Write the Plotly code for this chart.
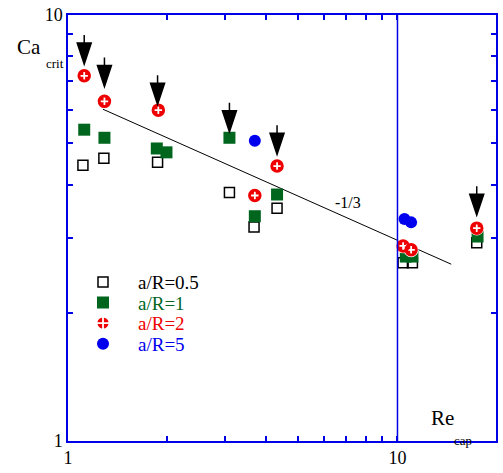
import numpy as np
import plotly.graph_objects as go

# Critical capillary number versus capillary Reynolds number, per a/R
x_05 = [1.11, 1.285, 1.87, 3.09, 3.67, 4.31, 10.4, 11.1, 17.4]
y_05 = [4.44, 4.61, 4.51, 3.83, 3.18, 3.52, 2.62, 2.62, 2.92]

x_1 = [1.12, 1.29, 1.86, 1.99, 3.09, 3.69, 4.31, 10.6, 11.1, 17.5]
y_1 = [5.38, 5.15, 4.86, 4.76, 5.15, 3.37, 3.79, 2.71, 2.71, 3.02]

x_2 = [1.12, 1.29, 1.88, 3.69, 4.31, 10.4, 11.0, 17.4]
y_2 = [7.2, 6.27, 5.98, 3.77, 4.42, 2.87, 2.81, 3.16]

x_5 = [3.69, 10.5, 11.0]
y_5 = [5.07, 3.32, 3.26]

series_names = ["a/R=0.5", "a/R=1", "a/R=2", "a/R=5"]

# Reference line with slope -1/3 (end points)
fit_x = [1.276, 14.56]
fit_y = [6.01, 2.60]

# Tips of the downward arrows
arrow_x = [1.12, 1.29, 1.87, 3.09, 4.31, 17.4]
arrow_y = [7.67, 6.79, 6.17, 5.32, 4.71, 3.39]

BLUE = "#0000e6"
GREEN = "#00661e"
RED = "#ee0000"
MBLUE = "#0000ee"
FONT = "Liberation Serif, Times New Roman, serif"

fig = go.Figure()

fig.add_trace(go.Scatter(
    x=fit_x, y=fit_y, mode="lines", showlegend=False,
    line=dict(color="black", width=1), hoverinfo="skip"))

markers = [
    dict(symbol="square-open", size=10, color="black",
         line=dict(color="black", width=1.5)),
    dict(symbol="square", size=12, color=GREEN, line=dict(width=0)),
    dict(symbol="circle-cross", size=13, color=RED,
         line=dict(color="white", width=1.8)),
    dict(symbol="circle", size=12, color=MBLUE, line=dict(width=0)),
]
text_colors = ["black", GREEN, RED, MBLUE]
legend_ids = ["legend", "legend2", "legend3", "legend4"]

for xs, ys, name, mk, lid in zip([x_05, x_1, x_2, x_5], [y_05, y_1, y_2, y_5],
                                 series_names, markers, legend_ids):
    fig.add_trace(go.Scatter(x=xs, y=ys, mode="markers", name=name,
                             marker=mk, legend=lid))
    if name == "a/R=2":
        # red rim so the white plus stays in the middle of each marker
        fig.add_trace(go.Scatter(
            x=xs, y=ys, mode="markers", showlegend=False, hoverinfo="skip",
            marker=dict(symbol="circle-open", size=10.5, color=RED,
                        line=dict(color=RED, width=3))))

shapes = [dict(type="line", xref="x", yref="paper", x0=10, x1=10, y0=0, y1=1,
               line=dict(color=BLUE, width=1.5))]
for ax_, ay_ in zip(arrow_x, arrow_y):
    shapes.append(dict(
        type="path", xref="x", yref="y",
        xsizemode="pixel", ysizemode="pixel", xanchor=ax_, yanchor=ay_,
        path="M-7,21 L7,21 L0,0 Z M0,21 L0,29",
        fillcolor="black", line=dict(color="black", width=1.5)))

annotations = [
    dict(text="Ca", xref="paper", yref="paper", x=-0.125, y=0.926,
         xanchor="left", yanchor="middle", showarrow=False,
         font=dict(family=FONT, size=21, color="black")),
    dict(text="crit", xref="paper", yref="paper", x=-0.056, y=0.887,
         xanchor="left", yanchor="middle", showarrow=False,
         font=dict(family=FONT, size=13, color="black")),
    dict(text="Re", xref="paper", yref="paper", x=0.844, y=0.053,
         xanchor="left", yanchor="middle", showarrow=False,
         font=dict(family=FONT, size=21, color="black")),
    dict(text="cap", xref="paper", yref="paper", x=0.897, y=0.002,
         xanchor="left", yanchor="middle", showarrow=False,
         font=dict(family=FONT, size=13, color="black")),
    dict(text="-1/3", xref="x", yref="paper", x=np.log10(7.06), y=0.56,
         xanchor="center", yanchor="middle", showarrow=False,
         font=dict(family=FONT, size=16, color="black")),
]

axis_common = dict(
    type="log", showgrid=False, zeroline=False,
    showline=True, linecolor=BLUE, linewidth=1.5, mirror="ticks",
    ticks="inside", ticklen=5, tickcolor=BLUE, tickwidth=1.5,
    tickfont=dict(family=FONT, size=18, color="black"),
)
minor_ticks = dict(tickvals=[2, 3, 4, 5, 6, 7, 8, 9], ticks="inside",
                   ticklen=5, tickcolor=BLUE, tickwidth=1.5, showgrid=False)

legend_rows_y = [0.373, 0.325, 0.2765, 0.228]
legends = {}
for lid, ly, col in zip(legend_ids, legend_rows_y, text_colors):
    legends[lid] = dict(x=0.0, y=ly, xanchor="left", yanchor="middle",
                        bgcolor="rgba(0,0,0,0)", itemwidth=60,
                        font=dict(family=FONT, size=19, color=col))

fig.update_layout(
    width=503, height=473,
    margin=dict(l=68, r=5, t=12, b=27),
    paper_bgcolor="white", plot_bgcolor="white",
    font=dict(family=FONT),
    xaxis=dict(range=[0, 1.299], tickvals=[1, 10], ticktext=["1", "10"],
               minor=minor_ticks, **axis_common),
    yaxis=dict(range=[0, 1], tickvals=[1, 10], ticktext=["1", "10"],
               minor=minor_ticks, **axis_common),
    shapes=shapes,
    annotations=annotations,
    showlegend=True,
    **legends,
)

fig.write_html("out.html")
